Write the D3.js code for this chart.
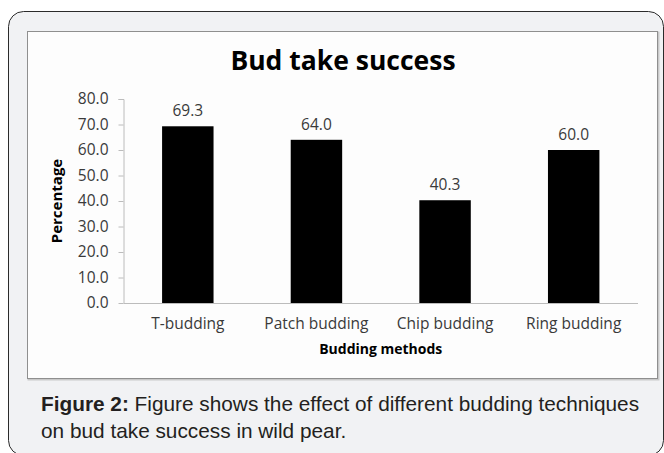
<!DOCTYPE html>
<html>
<head>
<meta charset="utf-8">
<script src="https://cdn.jsdelivr.net/npm/d3@7"></script>
<style>
  html, body { margin: 0; padding: 0; background: #ffffff; }
  svg { display: block; }
</style>
</head>
<body>
<svg id="chart" width="664" height="453"></svg>
<script>
// Budding techniques and their bud take success (%)
const categories = ["T-budding", "Patch budding", "Chip budding", "Ring budding"];
const successValues = [69.3, 64.0, 40.3, 60.0];
const yTicks = [0, 10, 20, 30, 40, 50, 60, 70, 80];

const chartTitle = "Bud take success";
const xAxisTitle = "Budding methods";
const yAxisTitle = "Percentage";
const captionBold = "Figure 2:";
const captionLine1 = " Figure shows the effect of different budding techniques";
const captionLine2 = "on bud take success in wild pear.";

const svg = d3.select("#chart");
const chartFont = "'Open Sans', Lato, 'DejaVu Sans', sans-serif";
const captionFont = "'Liberation Sans', Arial, sans-serif";

// Outer figure panel
svg.append("rect")
  .attr("x", 8.5).attr("y", 11.5)
  .attr("width", 655).attr("height", 444)
  .attr("rx", 15).attr("ry", 15)
  .attr("fill", "#f1f2f4")
  .attr("stroke", "#2b2b2b")
  .attr("stroke-width", 1);

// Chart frame with a soft shadow
svg.append("rect")
  .attr("x", 28.5).attr("y", 32.5)
  .attr("width", 630).attr("height", 347)
  .attr("fill", "none")
  .attr("stroke", "#c9c9c9")
  .attr("stroke-width", 2);
svg.append("rect")
  .attr("x", 27.5).attr("y", 31.5)
  .attr("width", 630).attr("height", 347)
  .attr("fill", "#fdfdfd")
  .attr("stroke", "#8f8f8f")
  .attr("stroke-width", 1);

// Plot area
const plot = { left: 123.5, right: 638, top: 99, bottom: 303 };

const x = d3.scaleBand()
  .domain(categories)
  .range([plot.left, plot.right])
  .paddingInner(0.6)
  .paddingOuter(0.3);

const y = d3.scaleLinear()
  .domain([0, 80])
  .range([plot.bottom, plot.top]);

// Title
svg.append("text")
  .attr("x", 343).attr("y", 70)
  .attr("text-anchor", "middle")
  .attr("font-family", chartFont)
  .attr("font-weight", "bold")
  .attr("font-size", 26.5)
  .attr("fill", "#000")
  .text(chartTitle);

// Y axis
const yAxis = svg.append("g")
  .attr("transform", `translate(${plot.left},0)`)
  .call(d3.axisLeft(y).tickValues(yTicks).tickFormat(d3.format(".1f")).tickSize(5).tickPadding(10));
yAxis.select(".domain").attr("stroke", "#bcbcbc").attr("d", `M-5,${plot.top + 0.5}H0.5V${plot.bottom}`);
yAxis.selectAll(".tick line").attr("stroke", "#bcbcbc");
yAxis.selectAll(".tick text")
  .attr("font-family", chartFont)
  .attr("font-size", 15.5)
  .attr("fill", "#3a3a3a");

// X axis baseline and category labels
const xAxis = svg.append("g")
  .attr("transform", `translate(0,${plot.bottom})`)
  .call(d3.axisBottom(x).tickSize(0).tickPadding(15));
xAxis.select(".domain").attr("stroke", "#bcbcbc").attr("d", `M${plot.left},0.5H${plot.right}`);
xAxis.selectAll(".tick text")
  .attr("font-family", chartFont)
  .attr("font-size", 15.5)
  .attr("fill", "#3a3a3a");

// Bars
const data = categories.map((c, i) => ({ category: c, value: successValues[i] }));
svg.append("g").selectAll("rect")
  .data(data)
  .join("rect")
  .attr("x", d => x(d.category))
  .attr("y", d => y(d.value))
  .attr("width", x.bandwidth())
  .attr("height", d => y(0) - y(d.value))
  .attr("fill", "#000");

// Value labels
svg.append("g").selectAll("text")
  .data(data)
  .join("text")
  .attr("x", d => x(d.category) + x.bandwidth() / 2)
  .attr("y", d => y(d.value) - 10)
  .attr("text-anchor", "middle")
  .attr("font-family", chartFont)
  .attr("font-size", 15.5)
  .attr("fill", "#3a3a3a")
  .text(d => d3.format(".1f")(d.value));

// Axis titles
svg.append("text")
  .attr("x", (plot.left + plot.right) / 2).attr("y", 354)
  .attr("text-anchor", "middle")
  .attr("font-family", chartFont)
  .attr("font-weight", "bold")
  .attr("font-size", 14)
  .attr("fill", "#000")
  .text(xAxisTitle);

svg.append("text")
  .attr("transform", `translate(62,${(plot.top + plot.bottom) / 2}) rotate(-90)`)
  .attr("text-anchor", "middle")
  .attr("font-family", chartFont)
  .attr("font-weight", "bold")
  .attr("font-size", 15)
  .attr("fill", "#000")
  .text(yAxisTitle);

// Figure caption
const cap1 = svg.append("text")
  .attr("x", 41).attr("y", 411)
  .attr("font-family", captionFont)
  .attr("font-size", 20.8)
  .attr("fill", "#231f20");
cap1.append("tspan").attr("font-weight", "bold").text(captionBold);
cap1.append("tspan").text(captionLine1);

svg.append("text")
  .attr("x", 41).attr("y", 438)
  .attr("font-family", captionFont)
  .attr("font-size", 20.8)
  .attr("fill", "#231f20")
  .text(captionLine2);
</script>
</body>
</html>
